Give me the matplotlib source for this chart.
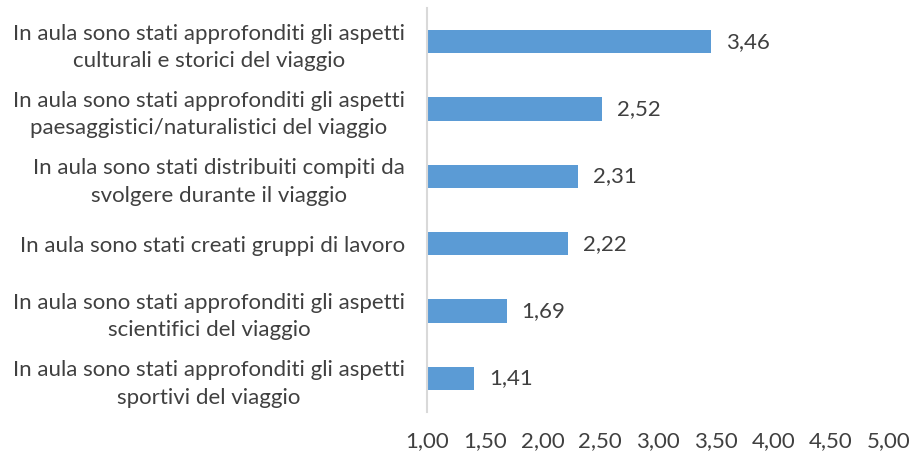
import matplotlib
matplotlib.use("Agg")
import matplotlib.pyplot as plt

# Data (top to bottom as in the chart)
categories = [
    "In aula sono stati approfonditi gli aspetti\nculturali e storici del viaggio",
    "In aula sono stati approfonditi gli aspetti\npaesaggistici/naturalistici del viaggio",
    "In aula sono stati distribuiti compiti da\nsvolgere durante il viaggio",
    "In aula sono stati creati gruppi di lavoro",
    "In aula sono stati approfonditi gli aspetti\nscientifici del viaggio",
    "In aula sono stati approfonditi gli aspetti\nsportivi del viaggio",
]
values = [3.46, 2.52, 2.31, 2.22, 1.69, 1.41]
xticks = [1.0, 1.5, 2.0, 2.5, 3.0, 3.5, 4.0, 4.5, 5.0]

plt.rcParams['font.family'] = ['Lato', 'DejaVu Sans']
text_color = "#404040"
fs = 16

fig = plt.figure(figsize=(9.17, 4.53), dpi=100)
ax = fig.add_axes([0.4657, 0.0905, 0.5033, 0.8918])

ypos = list(range(len(categories)))
base = 1.0
ax.barh(ypos, [v - base for v in values], left=base, height=0.35, color="#5B9BD5")

# value labels
for y, v in zip(ypos, values):
    ax.text(v + 0.13, y, f"{v:.2f}".replace(".", ","), va="center", ha="left",
            fontsize=fs, color=text_color)

ax.set_xlim(1, 5)
ax.set_ylim(len(categories) - 0.5, -0.5)
ax.set_yticks(ypos)
ax.set_yticklabels(categories, fontsize=fs, color=text_color, multialignment="center",
                   linespacing=1.45)
ax.set_xticks(xticks)
ax.set_xticklabels([f"{t:.2f}".replace(".", ",") for t in xticks], fontsize=fs, color=text_color)
ax.tick_params(axis="both", length=0)
ax.tick_params(axis="y", pad=16)
ax.tick_params(axis="x", pad=14)

for s in ["top", "right", "bottom"]:
    ax.spines[s].set_visible(False)
ax.spines["left"].set_color("#D9D9D9")
ax.spines["left"].set_linewidth(1.5)

fig.savefig("out.png", dpi=100)
